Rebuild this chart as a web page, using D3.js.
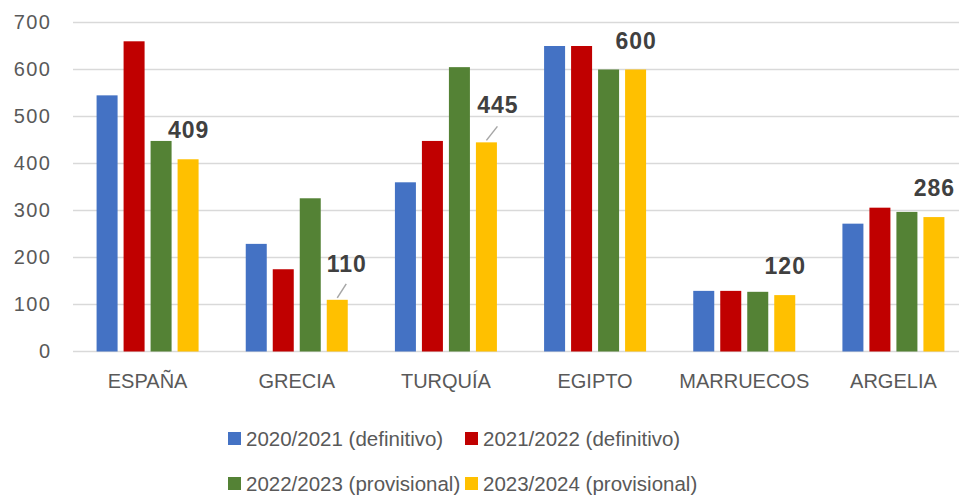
<!DOCTYPE html>
<html>
  <head>
    <meta charset="utf-8">
    <script type="text/javascript" src="https://cdn.jsdelivr.net/npm/d3@7/dist/d3.min.js"></script>
    <style>
      body { margin: 0; background: #fff; }
      text { font-family: "Liberation Sans", Arial, sans-serif; }
    </style>
  </head>
  <body>
    <script type="text/javascript">
    // data
    var categories = ["ESPAÑA", "GRECIA", "TURQUÍA", "EGIPTO", "MARRUECOS", "ARGELIA"];
    var seriesNames = ["2020/2021 (definitivo)", "2021/2022 (definitivo)",
                       "2022/2023 (provisional)", "2023/2024 (provisional)"];
    var v2021 = [545, 229, 360, 650, 129, 272];
    var v2122 = [660, 175, 448, 650, 129, 306];
    var v2223 = [448, 326, 605, 600, 127, 297];
    var v2324 = [409, 110, 445, 600, 120, 286];
    var yTicks = [0, 100, 200, 300, 400, 500, 600, 700];
    var colors = ["#4472C4", "#C00000", "#548235", "#FFC000"];

    var seriesValues = [v2021, v2122, v2223, v2324];

    var width = 959, height = 496;
    var svg = d3.select("body").append("svg")
                .attr("width", width)
                .attr("height", height);

    var x0 = d3.scaleBand().domain(categories).range([73, 968]);
    var x1 = d3.scaleBand().domain(d3.range(4)).range([0, 108])
               .paddingInner(0.222).paddingOuter(0.111);
    var y = d3.scaleLinear().domain([0, 700]).range([351.5, 22.5]);

    // gridlines
    svg.selectAll("line.grid")
       .data(yTicks)
       .enter()
       .append("line")
       .attr("class", "grid")
       .attr("x1", 73).attr("x2", width)
       .attr("y1", function(d) { return y(d); })
       .attr("y2", function(d) { return y(d); })
       .attr("stroke", "#d9d9d9")
       .attr("stroke-width", 1.6);

    // y axis labels
    var yAxis = d3.axisLeft(y).tickValues(yTicks).tickSize(0).tickPadding(0);
    var gy = svg.append("g").attr("transform", "translate(51.5,0)").call(yAxis);
    gy.select(".domain").remove();
    gy.selectAll("text")
      .attr("fill", "#595959")
      .style("font-size", "20px")
      .style("letter-spacing", "1.5px")
      .style("font-family", "'Liberation Sans', Arial, sans-serif");

    // x axis labels
    var xAxis = d3.axisBottom(x0).tickSize(0).tickPadding(0);
    var gx = svg.append("g").attr("transform", "translate(0,374)").call(xAxis);
    gx.select(".domain").remove();
    gx.selectAll("text")
      .attr("fill", "#595959")
      .style("font-size", "20px")
      .style("font-family", "'Liberation Sans', Arial, sans-serif");

    // bars
    var rows = [];
    categories.forEach(function(c, i) {
        seriesValues.forEach(function(vals, s) {
            rows.push({cat: c, s: s, v: vals[i]});
        });
    });

    function barX(d) {
        return x0(d.cat) + x0.bandwidth() / 2 - 54 + x1(d.s);
    }

    svg.selectAll("rect.bar")
       .data(rows)
       .enter()
       .append("rect")
       .attr("class", "bar")
       .attr("x", barX)
       .attr("y", function(d) { return y(d.v); })
       .attr("width", x1.bandwidth())
       .attr("height", function(d) { return y(0) - y(d.v); })
       .attr("fill", function(d) { return colors[d.s]; });

    // data labels on last series, some moved with leader lines
    var labelShift = {"GRECIA": [9, 28], "TURQUÍA": [11, 29]};
    var labels = categories.map(function(c, i) {
        var sh = labelShift[c] || [0, 21];
        var cx = x0(c) + x0.bandwidth() / 2 - 54 + x1(3) + x1.bandwidth() / 2;
        return {cat: c, v: v2324[i], cx: cx, dx: sh[0], dy: sh[1], lead: !!labelShift[c]};
    });

    svg.selectAll("line.leader")
       .data(labels.filter(function(d) { return d.lead; }))
       .enter()
       .append("line")
       .attr("class", "leader")
       .attr("x1", function(d) { return d.cx; })
       .attr("y1", function(d) { return y(d.v) - 2; })
       .attr("x2", function(d) { return d.cx + d.dx; })
       .attr("y2", function(d) { return y(d.v) - 16; })
       .attr("stroke", "#a6a6a6")
       .attr("stroke-width", 1.5);

    svg.selectAll("text.lbl")
       .data(labels)
       .enter()
       .append("text")
       .attr("class", "lbl")
       .attr("x", function(d) { return d.cx + d.dx + 0.5; })
       .attr("y", function(d) { return y(d.v) - d.dy; })
       .attr("text-anchor", "middle")
       .attr("fill", "#404040")
       .style("font-size", "23px")
       .style("letter-spacing", "1px")
       .style("font-weight", "bold")
       .text(function(d) { return d.v; });

    // legend, two rows
    var legendPos = [[228, 432], [465, 432], [228, 477], [465, 477]];
    var leg = svg.selectAll("g.leg")
                 .data(seriesNames)
                 .enter()
                 .append("g")
                 .attr("class", "leg")
                 .attr("transform", function(d, i) {
                     return "translate(" + legendPos[i][0] + "," + legendPos[i][1] + ")";
                 });
    leg.append("rect")
       .attr("width", 13).attr("height", 13)
       .attr("fill", function(d, i) { return colors[i]; });
    leg.append("text")
       .attr("x", 18).attr("y", 14)
       .attr("fill", "#595959")
       .style("font-size", "20.5px")
       .text(function(d) { return d; });
    </script>
  </body>
</html>
